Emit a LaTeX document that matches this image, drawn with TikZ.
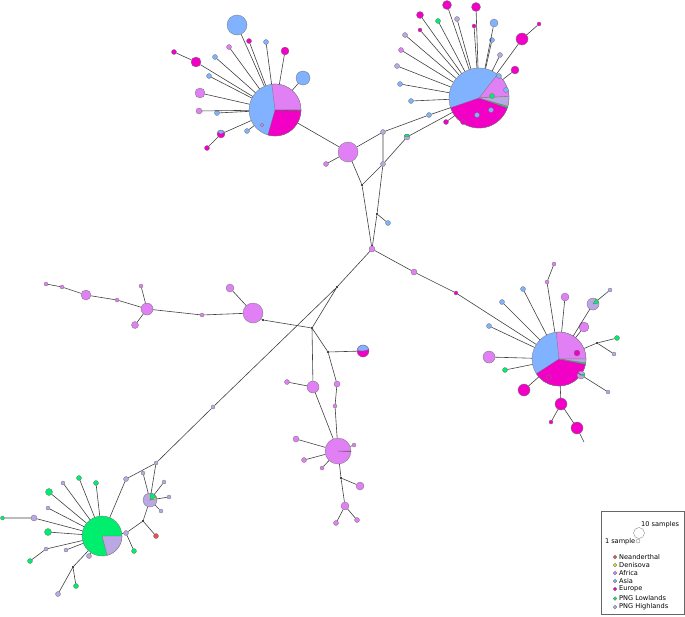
\documentclass[tikz,border=0pt]{standalone}
\usepackage{fontspec}
\setsansfont{DejaVu Sans}

\definecolor{nea}{RGB}{235,80,80}
\definecolor{den}{RGB}{205,228,60}
\definecolor{afr}{RGB}{225,128,245}
\definecolor{asi}{RGB}{128,178,255}
\definecolor{eur}{RGB}{242,0,198}
\definecolor{low}{RGB}{0,238,110}
\definecolor{hig}{RGB}{187,167,228}

% haplotype: name, colour, x, y, radius
\newcommand{\hap}[5]{\node[hap,fill=#2,minimum size=#5pt*2] (#1) at (#3,#4) {};}
% pie slice: node, start angle, end angle, radius, colour
\newcommand{\piepart}[5]{\filldraw[fill=#5,draw=black!55,line width=0.3pt] (#1.center) -- ++(#2:#4pt) arc[start angle=#2,end angle=#3,radius=#4pt] -- cycle;}

\begin{document}
\begin{tikzpicture}[x=1pt,y=-1pt,
    hap/.style={circle,draw=black!55,line width=0.3pt,inner sep=0pt},
    jn/.style={circle,fill=black,inner sep=0pt,minimum size=2.4pt},
    edge/.style={draw=black!75,line width=0.6pt},
    lab/.style={font=\sffamily\fontsize{6.6}{7.5}\selectfont,inner sep=0pt}]
    \useasboundingbox (0,0) rectangle (685,616);

    % centre
    \hap{hub}{afr}{372}{249}{3}
    \node[jn] (jA) at (362,185) {};
    \node[jn] (jB) at (377,214) {};
    \hap{vA}{afr}{348}{152}{10}
    \hap{lA}{hig}{383}{164}{2.5}
    \hap{bA}{asi}{388}{223}{2.5}
    \hap{lB}{hig}{383}{132}{2.5}
    \hap{vAs}{afr}{326}{164}{2.5}
    \hap{bB}{asi}{429}{115}{2.5}
    \hap{gl}{hig}{407}{137}{3}
    \piepart{gl}{20}{160}{3}{low}
    \hap{mA}{eur}{446}{122}{2.5}

    % top left
    \hap{tlpie}{asi}{275}{110}{26}
    \piepart{tlpie}{0}{97}{26}{afr}
    \piepart{tlpie}{-106}{0}{26}{eur}
    \piepart{tlpie}{-1.5}{0}{26}{eur!45!black}
    \hap{tlB1}{asi}{237}{25}{10}
    \hap{tlm1}{eur}{249}{41}{2.5}
    \hap{tlb2}{asi}{266}{42}{2.5}
    \hap{tlm2}{eur}{285}{51}{4}
    \hap{tlB3}{asi}{303}{78}{7}
    \hap{tlv1}{afr}{229}{47}{2.5}
    \hap{tlm3}{eur}{174}{52}{2.5}
    \hap{tlm4}{eur}{196}{62}{5}
    \hap{tlb4}{asi}{215}{57}{2.5}
    \hap{tlb5}{asi}{209}{76}{2.5}
    \hap{tlv2}{afr}{200}{93}{5}
    \hap{tlv3}{afr}{199}{111}{3}
    \hap{tlb6}{asi}{217}{113}{2.5}
    \hap{tlb7}{asi}{247}{131}{2.5}
    \hap{tlmx}{eur}{221}{134}{4}
    \piepart{tlmx}{30}{150}{4}{asi}
    \hap{tlm5}{eur}{207}{148}{2.5}

    % top right
    \hap{trpie}{asi}{479}{98}{30}
    \piepart{trpie}{3}{52}{30}{afr}
    \piepart{trpie}{-161}{-19}{30}{eur}
    \piepart{trpie}{-19}{-16}{30}{low}
    \piepart{trpie}{-16}{3}{30}{hig}
    \hap{trm1}{eur}{447}{5}{4.5}
    \hap{trm2}{eur}{476}{7}{4.5}
    \hap{trm3}{eur}{420}{15}{3.5}
    \hap{trg1}{low}{438}{21}{2.5}
    \hap{trl1}{hig}{457}{19}{2.5}
    \hap{trm4}{eur}{474}{26}{2}
    \hap{trb1}{asi}{494}{23}{4}
    \hap{trb2}{asi}{492}{40}{2.5}
    \hap{trl2}{hig}{500}{55}{2.5}
    \hap{trm5}{eur}{539}{24}{2}
    \hap{trm6}{eur}{522}{39}{6}
    \hap{trm7}{eur}{515}{70}{4}
    \hap{trm8}{eur}{420}{30}{2}
    \hap{trl3}{hig}{405}{35}{2.5}
    \hap{trv1}{afr}{401}{50}{2.5}
    \hap{trl4}{hig}{397}{66}{2.5}
    \hap{trb3}{asi}{400}{84}{2.5}
    \hap{trb4}{asi}{411}{101}{2.5}

    % right
    \hap{rpie}{asi}{559}{359}{27}
    \piepart{rpie}{0}{96}{27}{afr}
    \piepart{rpie}{-147}{-11}{27}{eur}
    \piepart{rpie}{-11}{-8}{27}{low}
    \piepart{rpie}{-8}{0}{27}{hig}
    \hap{rv1}{afr}{554}{264}{2}
    \hap{rv2}{afr}{547}{282}{2}
    \hap{rb1}{asi}{523}{289}{2.5}
    \hap{rb2}{asi}{502}{302}{2.5}
    \hap{rv3}{afr}{565}{297}{4}
    \hap{rl1}{hig}{593}{304}{6}
    \piepart{rl1}{10}{60}{6}{low}
    \hap{rl2}{hig}{610}{290}{2}
    \hap{rv4}{afr}{584}{327}{5}
    \hap{rb3}{asi}{489}{326}{2.5}
    \node[jn] (rj) at (597,343) {};
    \hap{rg1}{low}{617}{338}{2.5}
    \hap{rl3}{hig}{614}{354}{2}
    \hap{rv5}{afr}{489}{357}{6}
    \hap{rg2}{low}{505}{370}{2.5}
    \hap{rl4}{hig}{581}{375}{4}
    \piepart{rl4}{-20}{20}{4}{low}
    \hap{rl5}{hig}{608}{392}{2}
    \hap{rm1}{eur}{524}{390}{6}
    \hap{rm2}{eur}{561}{404}{6}
    \hap{rm3}{eur}{551}{422}{2}
    \hap{rm4}{eur}{577}{428}{6}
    \coordinate (rmEnd) at (584,442);
    \hap{rv6}{afr}{414}{272}{3}
    \hap{rm7}{eur}{456}{293}{2}

    % left chain
    \hap{lv1}{afr}{46}{284}{2}
    \hap{lv2}{afr}{62}{287}{2}
    \hap{lv3}{afr}{86}{295}{5}
    \hap{lv4}{afr}{117}{300}{2}
    \hap{lv5}{afr}{147}{309}{6}
    \hap{lv6}{afr}{141}{286}{2}
    \hap{lv7}{afr}{135}{325}{3.5}
    \hap{lv8}{afr}{202}{315}{2}
    \hap{lv9}{afr}{253}{313}{10}
    \hap{lv10}{afr}{230}{288}{4}
    \node[jn] (jC) at (263,320) {};

    % middle
    \node[jn] (jD) at (312,328) {};
    \node[jn] (jE) at (337,287) {};
    \node[jn] (jF) at (328,352) {};
    \hap{mbp}{eur}{363}{351}{6}
    \piepart{mbp}{15}{175}{6}{asi}
    \hap{mv1}{afr}{313}{387}{6}
    \hap{mv2}{afr}{287}{382}{2.5}
    \hap{mv3}{afr}{337}{384}{3}
    \hap{mv4}{afr}{335}{406}{2}
    \hap{mpie}{afr}{338}{451}{13}
    \piepart{mpie}{-3}{0}{13}{eur!55!black}
    \hap{mv5}{afr}{296}{439}{3}
    \hap{mv6}{afr}{304}{460}{2.5}
    \hap{mv7}{afr}{322}{468}{2}
    \hap{mv8}{afr}{354}{445}{2}
    \node[jn] (jG) at (341,478) {};
    \hap{mv9}{afr}{360}{486}{4}
    \hap{mv10}{afr}{345}{506}{4}
    \hap{mv11}{afr}{336}{523}{2.5}
    \hap{mv12}{afr}{357}{520}{2.5}
    \hap{lbl1}{hig}{213}{407}{2}

    % bottom left
    \hap{blpie}{low}{102}{536}{20}
    \piepart{blpie}{-75}{0}{20}{hig}
    \hap{blsm}{hig}{150}{500}{7}
    \piepart{blsm}{25}{85}{7}{low}
    \piepart{blsm}{10}{25}{7}{den}
    \hap{blA}{hig}{156}{463}{2}
    \hap{blB}{hig}{143}{473}{2}
    \hap{blC}{hig}{126}{479}{2.5}
    \hap{blD}{hig}{164}{482}{2}
    \hap{blE}{hig}{169}{497}{2}
    \hap{blF}{hig}{161}{511}{2}
    \node[jn] (jH) at (143,521) {};
    \hap{blN}{nea}{156}{536}{2.5}
    \hap{blG}{hig}{126}{533}{2.5}
    \hap{blH}{low}{134}{551}{2.5}
    \hap{blg1}{low}{79}{478}{2.5}
    \hap{bll1}{hig}{63}{483}{2}
    \hap{blg2}{low}{96}{483}{2.5}
    \hap{blg3}{low}{49}{492}{3.5}
    \hap{bll2}{hig}{48}{508}{2}
    \hap{bll3}{hig}{34}{518}{3}
    \hap{blg4}{low}{2.5}{518}{2}
    \hap{blg5}{low}{48}{532}{3.5}
    \hap{bll4}{hig}{66}{550}{2}
    \hap{bll5}{hig}{46}{549}{2}
    \hap{blg6}{low}{30}{561}{2.5}
    \hap{bll6}{hig}{89}{556}{2.5}
    \node[jn] (jI) at (73,567) {};
    \hap{blg7}{low}{76}{586}{2.5}
    \hap{bll7}{hig}{58}{594}{2.5}

    % connectors
    \draw[edge] (hub) -- (jA) (hub) -- (jB) (jA) -- (vA) (jA) -- (lA) (jB) -- (lA) (jB) -- (bA);
    \draw[edge] (lA) -- (lB) (lB) -- (vA) (lB) -- (bB) (lA) -- (gl) (vA) -- (vAs) (vA) -- (tlpie);
    \foreach \n in {tlB1,tlm1,tlb2,tlm2,tlB3,tlv1,tlm4,tlb4,tlb5,tlv2,tlv3,tlb6,tlb7,tlmx}
        \draw[edge] (tlpie) -- (\n);
    \draw[edge] (tlm3) -- (tlm4) (tlm5) -- (tlmx);
    \foreach \n in {trm1,trm2,trm3,trg1,trl1,trm4,trb1,trb2,trl2,trm6,trm7,trm8,trl3,trv1,trl4,trb3,trb4,bB,gl,mA}
        \draw[edge] (trpie) -- (\n);
    \draw[edge] (trm5) -- (trm6);
    \foreach \n in {rv2,rb1,rb2,rv3,rl1,rv4,rb3,rj,rv5,rg2,rl4,rm1,rm2,rm7}
        \draw[edge] (rpie) -- (\n);
    \draw[edge] (rv1) -- (rv2) (rl2) -- (rl1) (rg1) -- (rj) (rl3) -- (rj) (rl5) -- (rl4);
    \draw[edge] (rm3) -- (rm2) (rm4) -- (rm2) (rm4) -- (rmEnd);
    \draw[edge] (hub) -- (rv6) (rv6) -- (rm7);
    \draw[edge] (lv1) -- (lv2) (lv2) -- (lv3) (lv3) -- (lv4) (lv4) -- (lv5);
    \draw[edge] (lv5) -- (lv6) (lv5) -- (lv7) (lv5) -- (lv8) (lv8) -- (lv9) (lv9) -- (lv10);
    \draw[edge] (lv9) -- (jC) (jC) -- (jD);
    \draw[edge] (hub) -- (jE) (jE) -- (jD) (jE) -- (lbl1) (lbl1) -- (blA);
    \draw[edge] (jD) -- (mv1) (jD) -- (jF) (jF) -- (mbp) (jF) -- (mv3) (mv3) -- (mv4) (mv4) -- (mpie);
    \draw[edge] (mv1) -- (mpie) (mv1) -- (mv2);
    \foreach \n in {mv5,mv6,mv7,mv8,jG}
        \draw[edge] (mpie) -- (\n);
    \draw[edge] (jG) -- (mv9) (jG) -- (mv10) (mv10) -- (mv11) (mv10) -- (mv12);
    \draw[edge] (blA) -- (blsm) (blA) -- (blC) (blC) -- (blpie) (blB) -- (blsm);
    \foreach \n in {blD,blE,blF,jH}
        \draw[edge] (blsm) -- (\n);
    \draw[edge] (jH) -- (blN) (jH) -- (blG) (blG) -- (blpie) (blG) -- (blH);
    \foreach \n in {blg1,bll1,blg2,blg3,bll2,bll3,blg5,bll4,bll5,bll6,jI}
        \draw[edge] (blpie) -- (\n);
    \draw[edge] (bll3) -- (blg4) (bll5) -- (blg6) (jI) -- (blg7) (jI) -- (bll7);

    % haplotypes lying on the pies
    \hap{trb5}{asi}{506}{90}{2.5}
    \hap{trg2}{low}{492}{96}{2.5}
    \hap{trb6}{asi}{477}{115}{2.5}
    \hap{trb7}{asi}{491}{110}{2.5}
    \hap{trb8}{asi}{499}{76}{2.5}
    \hap{trm9}{eur}{463}{122}{2.5}
    \hap{rm5}{eur}{577}{353}{3}
    \hap{rm6}{eur}{549}{377}{2.5}
    \hap{tlv4}{afr}{262}{125}{1.8}

    % legend
    \draw[black!60,line width=0.4pt] (601,511) rectangle (684,614);
    \node[hap,minimum size=11pt] (tenkey) at (639,533) {};
    \node[hap,minimum size=4pt] (onekey) at (638,541) {};
    \node[lab,anchor=west] (tenlab) at (641,525) {10 samples};
    \node[lab,anchor=east] (onelab) at (635.5,542) {1 sample};
    \foreach \c/\t/\y in {nea/Neanderthal/557,den/Denisova/565,afr/Africa/573,asi/Asia/581,eur/Europe/589,low/PNG Lowlands/598.5,hig/PNG Highlands/607} {
        \node[hap,fill=\c,minimum size=3.6pt] (key\c) at (615,\y) {};
        \node[lab,anchor=west] (lab\c) at (619,\y) {\t};
    }
\end{tikzpicture}
\end{document}
